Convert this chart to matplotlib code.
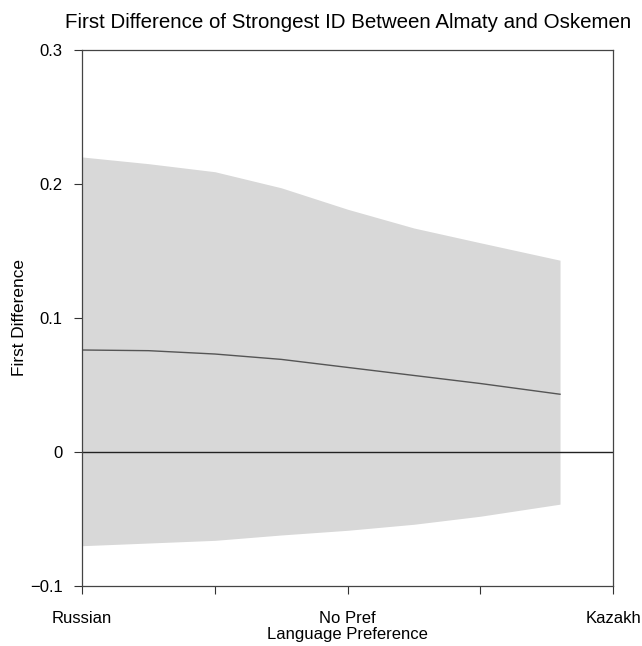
"""First difference of strongest ID between Almaty and Oskemen."""

import matplotlib

matplotlib.use("Agg")
import matplotlib.pyplot as plt

plt.rcParams["font.family"] = ["Liberation Sans", "DejaVu Sans"]

# language preference scale: 1 = Russian, 3 = No Pref, 5 = Kazakh
lang_pos = [1.0, 1.5, 2.0, 2.5, 3.0, 3.5, 4.0, 4.6]
first_diff = [0.076, 0.0755, 0.073, 0.069, 0.063, 0.057, 0.051, 0.043]
upper_ci = [0.220, 0.215, 0.209, 0.197, 0.181, 0.167, 0.156, 0.143]
lower_ci = [-0.070, -0.068, -0.066, -0.062, -0.0585, -0.054, -0.048, -0.039]

tick_pos = [1, 2, 3, 4, 5]
tick_labels = ["Russian", "", "No Pref", "", "Kazakh"]
y_ticks = [-0.1, 0, 0.1, 0.2, 0.3]
y_labels = ["\u22120.1", "0", "0.1", "0.2", "0.3"]

fig = plt.figure(figsize=(6.42, 6.46), dpi=100)
ax = fig.add_axes([0.128, 0.093, 0.827, 0.830])

ax.fill_between(lang_pos, lower_ci, upper_ci, color="#d8d8d8", linewidth=0)
ax.plot(lang_pos, first_diff, color="#555555", linewidth=1.0)
ax.axhline(0, color="#222222", linewidth=1.0)

ax.set_xlim(1, 5)
ax.set_ylim(-0.1, 0.3)
ax.set_xticks(tick_pos)
ax.set_xticklabels(tick_labels)
ax.set_yticks(y_ticks)
ax.set_yticklabels(y_labels)
ax.tick_params(direction="out", length=6, width=0.8, color="#333333",
               labelsize=12, pad=8)
ax.tick_params(axis="x", pad=12)
for sp in ax.spines.values():
    sp.set_color("#444444")
    sp.set_linewidth(0.9)

ax.set_xlabel("Language Preference", fontsize=12, labelpad=1)
ax.set_ylabel("First Difference", fontsize=12.4, labelpad=2)
ax.set_title("First Difference of Strongest ID Between Almaty and Oskemen",
             fontsize=14.8, pad=16)

fig.savefig("out.png", dpi=100)
